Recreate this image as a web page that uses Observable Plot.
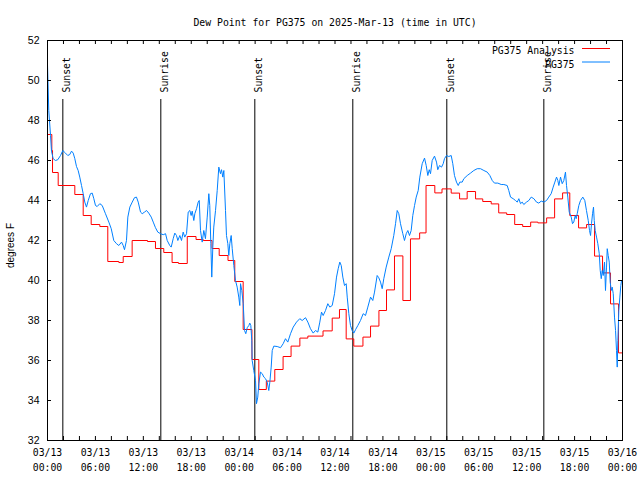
<!DOCTYPE html>
<html><head><meta charset="utf-8">
<script src="https://cdn.jsdelivr.net/npm/d3@7"></script>
<script src="https://cdn.jsdelivr.net/npm/@observablehq/plot@0.6"></script>
<style>
body{margin:0;background:#fff;}
#chart svg{display:block;}
</style>
</head><body><div id="chart"></div>
<script>
const title = "Dew Point for PG375 on 2025-Mar-13 (time in UTC)";
const yLabel = "degrees F";
const seriesNames = ["PG375 Analysis", "PG375"];
const seriesColors = ["#ff0000", "#0080ff"];
const xTickHours = [0, 6, 12, 18, 24, 30, 36, 42, 48, 54, 60, 66, 72];
const xTickLabels = ["03/13\n00:00","03/13\n06:00","03/13\n12:00","03/13\n18:00","03/14\n00:00","03/14\n06:00","03/14\n12:00","03/14\n18:00","03/15\n00:00","03/15\n06:00","03/15\n12:00","03/15\n18:00","03/16\n00:00"];
const xMinorHours = [0,2,4,6,8,10,12,14,16,18,20,22,24,26,28,30,32,34,36,38,40,42,44,46,48,50,52,54,56,58,60,62,64,66,68,70,72];
const yTicks = [32, 34, 36, 38, 40, 42, 44, 46, 48, 50, 52];
const sunHours = [1.92, 14.19, 25.96, 38.23, 50.0, 62.15];
const sunLabels = ["Sunset", "Sunrise", "Sunset", "Sunrise", "Sunset", "Sunrise"];

// PG375 Analysis (hourly, stepped): change times (hours since 03/13 00:00) and values
const anaHour = [0,0.54,0.63,1.34,3.42,4.47,5.47,6.55,7.55,8.93,9.48,10.6,12.52,13.52,14.56,15.6,16.4,17.5,18.6,19.5,20.6,21.5,22.6,23.45,24.5,25.6,26.46,27.4,28.46,29.5,30.5,31.6,32.6,34.5,35.65,36.56,37.4,38.35,39.5,40.45,41.5,42.45,43.45,44.5,45.45,46.6,47.4,48.5,49.4,50.55,51.6,52.55,53.6,54.5,55.56,56.5,57.5,58.5,59.5,60.5,61.4,62.5,63.5,64.5,65.4,66.5,67.5,68.5,69.5,70.5,71.5,72];
const anaDew = [47.3,46.5,45.4,44.75,44.3,43.25,42.8,42.7,40.95,40.9,41.2,42.0,41.95,41.6,41.4,40.9,40.85,42.2,42.05,42.0,41.6,41.25,41.0,39.95,37.55,36.05,34.55,34.97,35.55,36.2,36.72,37.12,37.22,37.48,38.12,38.55,37.08,36.72,37.17,37.72,38.5,39.53,41.23,39.0,42.08,42.38,44.75,44.38,44.58,44.37,44.08,44.45,44.08,43.95,43.83,43.38,43.3,42.8,42.7,42.92,42.88,43.13,44.08,44.38,43.25,42.63,42.8,41.22,40.38,38.83,36.38,36.38];

// PG375 observations
const obsHour = [0,0.16,0.38,0.50,0.71,1.00,1.29,1.63,1.92,2.25,2.54,2.79,3.01,3.22,3.42,3.63,3.84,4.04,4.26,4.47,4.67,4.88,5.10,5.38,5.60,5.80,6.01,6.22,6.55,6.85,7.26,7.68,7.98,8.30,8.64,8.93,9.27,9.48,9.64,9.89,10.06,10.31,10.61,10.89,11.14,11.36,11.65,11.86,12.15,12.40,12.68,12.99,13.24,13.52,13.81,14.15,14.49,14.78,14.99,15.31,15.49,15.74,15.94,16.15,16.32,16.57,16.78,16.99,17.19,17.41,17.62,17.82,17.99,18.12,18.32,18.45,18.66,18.87,19.00,19.16,19.37,19.57,19.78,20.00,20.20,20.32,20.45,20.57,20.70,20.82,21.04,21.25,21.45,21.66,21.79,21.95,22.08,22.29,22.41,22.58,22.70,22.83,23.00,23.13,23.33,23.54,23.75,23.95,24.08,24.17,24.33,24.51,24.67,24.83,25.01,25.21,25.33,25.46,25.58,25.63,25.83,26.05,26.17,26.33,26.46,26.67,26.89,27.09,27.30,27.51,27.71,27.84,28.01,28.14,28.34,28.76,29.18,29.51,29.80,30.09,30.43,30.77,31.18,31.59,31.89,32.31,32.60,32.93,33.27,33.56,33.85,34.10,34.31,34.52,34.81,35.10,35.35,35.65,35.94,36.19,36.40,36.60,36.78,36.98,37.19,37.40,37.53,37.73,37.94,38.15,38.36,38.57,38.86,39.19,39.53,39.82,40.11,40.45,40.73,40.95,41.28,41.48,41.70,41.91,42.11,42.41,42.74,43.04,43.36,43.58,43.79,43.99,44.20,44.49,44.70,44.92,45.12,45.33,45.54,45.74,45.96,46.17,46.42,46.62,46.92,47.21,47.42,47.62,47.80,47.96,48.17,48.46,48.71,48.87,49.09,49.34,49.55,49.71,49.96,50.25,50.55,50.75,50.96,51.21,51.43,51.63,51.93,52.13,52.56,52.97,53.38,53.81,54.22,54.64,55.06,55.39,55.69,55.97,56.39,56.81,57.14,57.56,57.76,57.98,58.31,58.60,58.82,59.02,59.23,59.44,59.64,59.98,60.27,60.57,60.90,61.23,61.52,61.82,62.15,62.49,62.77,63.07,63.32,63.53,63.74,63.90,64.03,64.24,64.45,64.65,64.86,64.99,65.15,65.33,65.58,65.74,65.90,66.08,66.20,66.33,66.53,66.74,67.03,67.28,67.49,67.71,67.87,68.00,68.12,68.25,68.37,68.46,68.58,68.75,68.91,69.09,69.21,69.34,69.46,69.59,69.75,69.87,70.00,70.09,70.21,70.34,70.46,70.59,70.71,70.84,71.00,71.13,71.25,71.34,71.42,71.54,71.67,71.79,71.88];
const obsDew = [50.8,48.5,47.25,46.47,46.09,46.0,46.04,46.25,46.5,46.37,46.25,46.3,46.47,46.37,46.09,45.7,45.5,45.17,44.75,44.34,43.92,43.67,44.0,44.34,44.37,44.09,43.75,43.7,43.84,43.75,43.34,42.92,42.59,42.0,41.84,41.75,41.92,41.75,41.54,42.0,43.17,43.67,43.92,44.14,44.17,43.92,43.42,43.34,43.42,43.5,43.37,43.17,42.92,42.64,42.42,42.34,42.29,42.34,42.0,41.75,41.67,42.09,42.37,42.25,42.0,42.25,42.0,42.42,42.17,42.34,43.42,43.5,43.25,43.47,43.0,43.34,43.59,43.92,44.0,42.5,41.92,42.5,42.09,43.17,44.34,43.75,41.84,40.17,41.67,42.67,43.5,44.5,45.67,45.34,45.54,45.17,45.5,43.5,42.25,41.84,41.25,41.84,42.25,41.59,40.75,40.0,39.67,39.17,38.75,39.84,39.5,38.84,37.5,37.34,37.64,37.75,37.87,37.75,37.0,36.0,35.5,35.0,33.84,34.17,34.84,35.42,35.34,35.17,35.09,34.92,34.5,34.92,35.67,36.5,36.72,36.7,36.64,36.84,37.09,36.92,37.34,37.67,37.92,38.09,38.0,38.14,37.92,37.59,37.37,37.5,37.42,37.92,38.42,38.25,38.5,38.84,38.67,38.75,39.34,40.17,40.59,40.92,40.75,40.17,39.75,39.84,39.17,38.34,37.75,37.5,37.37,37.54,37.75,38.0,38.34,38.25,38.67,39.17,39.0,39.42,40.25,40.14,39.92,39.59,40.09,40.67,41.17,41.59,42.25,42.84,43.5,43.34,42.84,42.34,42.0,42.34,42.5,42.25,42.5,43.25,43.75,44.17,44.5,45.17,45.84,46.12,45.75,45.25,45.54,45.34,46.0,46.22,45.92,45.54,45.75,45.67,45.84,46.09,46.25,46.2,46.25,45.84,45.25,44.92,44.75,44.92,44.92,45.09,45.25,45.37,45.5,45.59,45.59,45.5,45.42,45.25,45.0,44.87,44.87,44.8,44.8,44.75,44.5,44.17,44.09,44.0,43.92,44.09,43.84,43.92,43.8,43.92,44.0,44.17,44.09,43.92,43.87,43.97,43.92,44.0,44.17,44.34,44.67,44.92,45.17,45.0,44.75,45.17,44.84,45.0,45.42,44.75,44.17,43.42,43.17,42.84,42.92,43.25,43.09,43.34,43.75,44.0,44.17,44.0,43.5,43.0,42.5,42.25,42.84,43.34,43.67,43.0,42.5,42.17,41.84,41.34,40.5,40.09,40.5,40.25,40.92,39.5,40.67,41.59,41.25,40.92,39.92,39.5,39.67,39.34,38.17,37.5,36.5,35.67,37.0,38.5,39.17,39.75,40.0];

const mono = "'DejaVu Sans Mono', 'Liberation Mono', monospace";
const sans = "'Liberation Sans', Arial, sans-serif";

const ana = anaHour.map((h, i) => ({h, v: anaDew[i]}));
const nObs = Math.min(obsHour.length, obsDew.length);
const obs = obsHour.slice(0, nObs).map((h, i) => ({h, v: obsDew[i]}));
const sun = sunHours.map((h, i) => ({h, label: sunLabels[i]}));
const xLabelOf = new Map(xTickHours.map((h, i) => [h, xTickLabels[i]]));

const W = 640, H = 480, mL = 47, mR = 18, mT = 40, mB = 40;
const fw = W - mL - mR, fh = H - mT - mB;

const plot = Plot.plot({
  width: W, height: H,
  marginLeft: mL, marginRight: mR, marginTop: mT, marginBottom: mB,
  style: {fontFamily: mono, fontSize: "9.8px", background: "#fff", color: "#000", overflow: "visible"},
  x: {type: "linear", domain: [0, 72]},
  y: {type: "linear", domain: [32, 52]},
  marks: [
    Plot.ruleX(sun, {x: "h", insetTop: 59, stroke: "#000", strokeWidth: 1}),
    Plot.text(sun, {x: "h", text: "label", frameAnchor: "top", dy: 52, rotate: -90, textAnchor: "start", fill: "#000"}),
    Plot.line(ana, {x: "h", y: "v", curve: "step-after", stroke: seriesColors[0], strokeWidth: 1}),
    Plot.line(obs, {x: "h", y: "v", stroke: seriesColors[1], strokeWidth: 1}),
    Plot.tickX(xMinorHours, {x: d => d, insetTop: fh - 4, stroke: "#000"}),
    Plot.tickX(xMinorHours, {x: d => d, insetBottom: fh - 4, stroke: "#000"}),
    Plot.tickY(yTicks, {y: d => d, insetRight: fw - 4, stroke: "#000"}),
    Plot.tickY(yTicks, {y: d => d, insetLeft: fw - 4, stroke: "#000"}),
    Plot.axisX(xTickHours, {tickSize: 0, tickPadding: 5, tickFormat: d => xLabelOf.get(d), lineHeight: 1.53, label: null, fontFamily: mono}),
    Plot.axisY(yTicks, {tickSize: 0, tickPadding: 8, label: null, fontFamily: sans, fontSize: 10.5}),
    Plot.frame({stroke: "#000"}),
    Plot.text([title], {frameAnchor: "top", dy: -21, fill: "#000"}),
    Plot.text([yLabel], {frameAnchor: "left", dx: -37, dy: 5, rotate: -90, textAnchor: "middle", fill: "#000", fontFamily: sans, fontSize: 10}),
    Plot.text([seriesNames[0]], {frameAnchor: "top-right", dx: -48, dy: 7, textAnchor: "end", fill: "#000"}),
    Plot.text([seriesNames[1]], {frameAnchor: "top-right", dx: -48, dy: 20.5, textAnchor: "end", fill: "#000"})
  ]
});

const svg = d3.select(plot);
const legendG = svg.append("g");
seriesColors.forEach((c, i) => {
  const y = mT + 8.5 + i * 13.5;
  legendG.append("line")
    .attr("x1", W - mR - 40).attr("x2", W - mR - 12)
    .attr("y1", y).attr("y2", y)
    .attr("stroke", c).attr("stroke-width", 1);
});
document.getElementById("chart").appendChild(plot);
</script>
</body></html>
